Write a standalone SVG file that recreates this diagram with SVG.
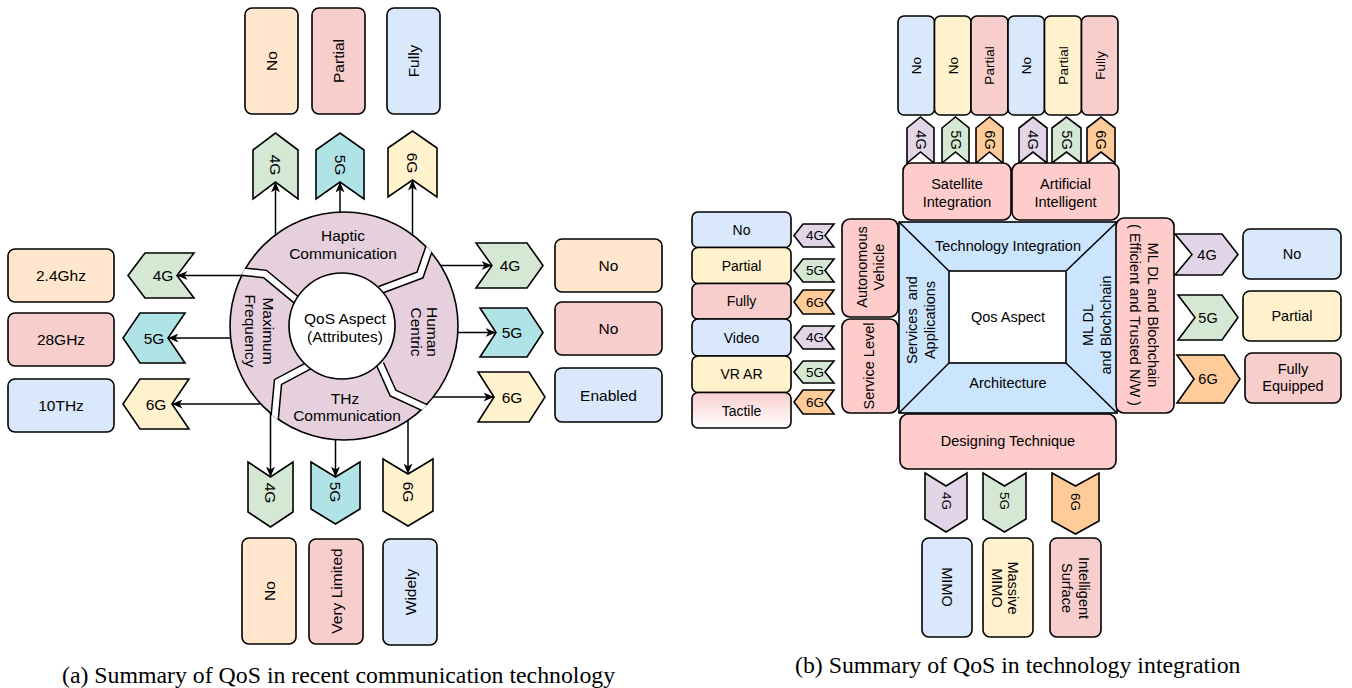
<svg xmlns="http://www.w3.org/2000/svg" width="1352" height="688" viewBox="0 0 1352 688">
  <style>
    .bx { stroke: #000; stroke-width: 1.6; }
    .ln { stroke: #000; stroke-width: 1.5; fill: none; }
    .t { font-family: "Liberation Sans", Arial, sans-serif; font-size: 15.5px; text-anchor: middle; dominant-baseline: central; fill: #000; }
    .m { font-size: 14.5px; }
    .s { font-size: 13.5px; }
    .r { font-size: 14px; }
    .cap { font-family: "Liberation Serif", "Times New Roman", serif; font-size: 23.8px; fill: #000; }
    .peach { fill: #ffe6cc; } .pink { fill: #f8cecc; } .blue { fill: #dae8fc; }
    .green { fill: #d5e8d4; } .cyan { fill: #b0e3e6; } .yellow { fill: #fff2cc; }
    .purple { fill: #e1d5e7; } .orange { fill: #ffcc99; } .rose { fill: #ffcccc; }
  </style>
  <defs>
    <marker id="ah" markerWidth="11" markerHeight="9" refX="10.5" refY="4.5" orient="auto" markerUnits="userSpaceOnUse">
      <path d="M0,0 L10.5,4.5 L0,9 L3,4.5 Z" fill="#000"/>
    </marker>
    <clipPath id="ringClip"><circle cx="344" cy="326" r="114.8"/></clipPath>
    <linearGradient id="tactileFill" x1="0" y1="0" x2="0" y2="1">
      <stop offset="0" stop-color="#f8cecc"/>
      <stop offset="1" stop-color="#ffffff"/>
    </linearGradient>
  </defs>
  <rect width="1352" height="688" fill="#fff"/>

  <!-- ===== (a) QoS in recent communication technology ===== -->
  <g id="a-ring">
    <circle cx="344" cy="326" r="114" fill="#e6d0de" class="bx"/>
    <g clip-path="url(#ringClip)">
      <polyline points="236,271 265,274 300,303" stroke="#000" stroke-width="9" fill="none"/>
      <polyline points="236,271 265,274 300,303" stroke="#fff" stroke-width="6" fill="none"/>
      <polyline points="431,243 420,275 380,290" stroke="#000" stroke-width="9" fill="none"/>
      <polyline points="431,243 420,275 380,290" stroke="#fff" stroke-width="6" fill="none"/>
      <polyline points="310,365 278,382 274,425" stroke="#000" stroke-width="9" fill="none"/>
      <polyline points="310,365 278,382 274,425" stroke="#fff" stroke-width="6" fill="none"/>
      <polyline points="380,364 393,393 432,411" stroke="#000" stroke-width="9" fill="none"/>
      <polyline points="380,364 393,393 432,411" stroke="#fff" stroke-width="6" fill="none"/>
    </g>
    <text class="t" x="343" y="235">Haptic</text>
    <text class="t" x="343" y="253">Communication</text>
    <text class="t" x="345" y="398">THz</text>
    <text class="t" x="347" y="415">Communication</text>
    <text class="t" transform="translate(260,331) rotate(90)"><tspan x="0" y="-9">Maximum</tspan><tspan x="0" y="9">Frequency</tspan></text>
    <text class="t" transform="translate(425,332) rotate(90)"><tspan x="0" y="-8">Human</tspan><tspan x="0" y="8">Centric</tspan></text>
  </g>
  <g id="a-core">
    <circle cx="342" cy="326" r="53" fill="#fff" class="bx"/>
    <text class="t" x="345" y="318">QoS Aspect</text>
    <text class="t" x="345" y="336">(Attributes)</text>
  </g>

  <g id="a-connectors">
    <line class="ln" x1="275.5" y1="236" x2="275.5" y2="182" marker-end="url(#ah)"/>
    <line class="ln" x1="340" y1="212" x2="340" y2="182" marker-end="url(#ah)"/>
    <line class="ln" x1="412.5" y1="236" x2="412.5" y2="180" marker-end="url(#ah)"/>
    <line class="ln" x1="243" y1="275.5" x2="177" y2="275.5" marker-end="url(#ah)"/>
    <line class="ln" x1="231" y1="338" x2="168" y2="338" marker-end="url(#ah)"/>
    <line class="ln" x1="260" y1="404" x2="172" y2="404" marker-end="url(#ah)"/>
    <line class="ln" x1="440" y1="265.5" x2="492" y2="265.5" marker-end="url(#ah)"/>
    <line class="ln" x1="458" y1="332.5" x2="496" y2="332.5" marker-end="url(#ah)"/>
    <line class="ln" x1="433" y1="397" x2="494" y2="397" marker-end="url(#ah)"/>
    <line class="ln" x1="270.5" y1="413" x2="270.5" y2="477" marker-end="url(#ah)"/>
    <line class="ln" x1="335.5" y1="440" x2="335.5" y2="477" marker-end="url(#ah)"/>
    <line class="ln" x1="408" y1="420" x2="408" y2="474" marker-end="url(#ah)"/>
  </g>

  <!-- top: haptic communication -->
  <g id="a-top-4g"><polygon class="bx green" points="253,150 275.5,133 298,150 298,199 275.5,182 253,199"/><text class="t" transform="translate(275.5,165) rotate(90)">4G</text></g>
  <g id="a-top-5g"><polygon class="bx cyan" points="316,150 340,133 364,150 364,199 340,182 316,199"/><text class="t" transform="translate(340,165) rotate(90)">5G</text></g>
  <g id="a-top-6g"><polygon class="bx yellow" points="388,148 412.5,131 437,148 437,197 412.5,180 388,197"/><text class="t" transform="translate(412.5,163) rotate(90)">6G</text></g>
  <g id="a-top-no"><rect class="bx peach" x="245" y="8" width="53" height="106" rx="7"/><text class="t" transform="translate(271.5,61) rotate(-90)">No</text></g>
  <g id="a-top-partial"><rect class="bx pink" x="312" y="8" width="53" height="106" rx="7"/><text class="t" transform="translate(338.5,61) rotate(-90)">Partial</text></g>
  <g id="a-top-fully"><rect class="bx blue" x="387" y="8" width="53" height="106" rx="7"/><text class="t" transform="translate(413.5,61) rotate(-90)">Fully</text></g>

  <!-- left: maximum frequency -->
  <g id="a-left-4g"><polygon class="bx green" points="145,253 194,253 177,275.5 194,298 145,298 128,275.5"/><text class="t" x="163" y="275.5">4G</text></g>
  <g id="a-left-5g"><polygon class="bx cyan" points="140,313 185,313 168,338 185,363 140,363 123,338"/><text class="t" x="154" y="338">5G</text></g>
  <g id="a-left-6g"><polygon class="bx yellow" points="140,379 189,379 172,404 189,429 140,429 123,404"/><text class="t" x="156" y="404">6G</text></g>
  <g id="a-left-24"><rect class="bx peach" x="8" y="249" width="106" height="53" rx="7"/><text class="t" x="61" y="275.5">2.4Ghz</text></g>
  <g id="a-left-28"><rect class="bx pink" x="8" y="313" width="106" height="53" rx="7"/><text class="t" x="61" y="339.5">28GHz</text></g>
  <g id="a-left-10"><rect class="bx blue" x="8" y="379" width="106" height="53" rx="7"/><text class="t" x="61" y="405.5">10THz</text></g>

  <!-- right: human centric -->
  <g id="a-right-4g"><polygon class="bx green" points="476,243 527,243 543,265.5 527,288 476,288 492,265.5"/><text class="t" x="510" y="265.5">4G</text></g>
  <g id="a-right-5g"><polygon class="bx cyan" points="480,308 527,308 543,332.5 527,357 480,357 496,332.5"/><text class="t" x="512" y="332.5">5G</text></g>
  <g id="a-right-6g"><polygon class="bx yellow" points="478,372 529,372 545,397 529,422 478,422 494,397"/><text class="t" x="512" y="397">6G</text></g>
  <g id="a-right-no1"><rect class="bx peach" x="555" y="239" width="107" height="53" rx="7"/><text class="t" x="608.5" y="265.5">No</text></g>
  <g id="a-right-no2"><rect class="bx pink" x="555" y="302" width="107" height="53" rx="7"/><text class="t" x="608.5" y="328.5">No</text></g>
  <g id="a-right-enabled"><rect class="bx blue" x="555" y="368" width="107" height="54" rx="7"/><text class="t" x="608.5" y="395">Enabled</text></g>

  <!-- bottom: THz communication -->
  <g id="a-bot-4g"><polygon class="bx green" points="248,462 270.5,477 293,462 293,512 270.5,527 248,512"/><text class="t" transform="translate(270.5,493) rotate(90)">4G</text></g>
  <g id="a-bot-5g"><polygon class="bx cyan" points="311,462 335.5,477 360,462 360,509 335.5,524 311,509"/><text class="t" transform="translate(335.5,492) rotate(90)">5G</text></g>
  <g id="a-bot-6g"><polygon class="bx yellow" points="383,459 408,474 433,459 433,511 408,526 383,511"/><text class="t" transform="translate(408,492) rotate(90)">6G</text></g>
  <g id="a-bot-no"><rect class="bx peach" x="242" y="538" width="54" height="106" rx="7"/><text class="t" transform="translate(269,591) rotate(-90)">No</text></g>
  <g id="a-bot-limited"><rect class="bx pink" x="309" y="539" width="54" height="105" rx="7"/><text class="t" transform="translate(336,591) rotate(-90)">Very Limited</text></g>
  <g id="a-bot-widely"><rect class="bx blue" x="383" y="539" width="54" height="106" rx="7"/><text class="t" transform="translate(410,592) rotate(-90)">Widely</text></g>

  <text class="cap" x="62" y="683">(a) Summary of QoS in recent communication technology</text>

  <!-- ===== (b) QoS in technology integration ===== -->
  <g id="b-core">
    <rect x="899" y="222" width="218" height="191" fill="#cce5ff" class="bx"/>
    <rect x="949" y="271" width="117" height="92" fill="#fff" class="bx"/>
    <line class="ln" x1="899" y1="222" x2="949" y2="271"/>
    <line class="ln" x1="1117" y1="222" x2="1066" y2="271"/>
    <line class="ln" x1="899" y1="413" x2="949" y2="363"/>
    <line class="ln" x1="1117" y1="413" x2="1066" y2="363"/>
    <text class="t m" x="1008" y="246">Technology Integration</text>
    <text class="t m" x="1008" y="317">Qos Aspect</text>
    <text class="t m" x="1008" y="383">Architecture</text>
    <text class="t m" transform="translate(921,320) rotate(-90)"><tspan x="0" y="-9" xml:space="preserve">Services  and</tspan><tspan x="0" y="9">Applications</tspan></text>
    <text class="t m" transform="translate(1097,325) rotate(-90)"><tspan x="0" y="-9">ML DL</tspan><tspan x="0" y="9">and Blochchain</tspan></text>
  </g>

  <!-- top: satellite / AI -->
  <g id="b-top-no1"><rect class="bx blue" x="898" y="16" width="36.5" height="99" rx="6"/><text class="t s" transform="translate(916,65.5) rotate(-90)">No</text></g>
  <g id="b-top-no2"><rect class="bx yellow" x="934.5" y="16" width="36.5" height="99" rx="6"/><text class="t s" transform="translate(953,65.5) rotate(-90)">No</text></g>
  <g id="b-top-partial1"><rect class="bx pink" x="971" y="16" width="37" height="99" rx="6"/><text class="t s" transform="translate(989.5,65.5) rotate(-90)">Partial</text></g>
  <g id="b-top-no3"><rect class="bx blue" x="1008" y="16" width="36.5" height="99" rx="6"/><text class="t s" transform="translate(1026,65.5) rotate(-90)">No</text></g>
  <g id="b-top-partial2"><rect class="bx yellow" x="1044.5" y="16" width="37" height="99" rx="6"/><text class="t s" transform="translate(1063,65.5) rotate(-90)">Partial</text></g>
  <g id="b-top-fully"><rect class="bx pink" x="1081.5" y="16" width="36.5" height="99" rx="6"/><text class="t s" transform="translate(1100,65.5) rotate(-90)">Fully</text></g>

  <g id="b-top-4g1"><polygon class="bx purple" points="907,128 920.5,117 934,128 934,163 920.5,152 907,163"/><text class="t m" transform="translate(920.5,140) rotate(90)">4G</text></g>
  <g id="b-top-5g1"><polygon class="bx green" points="942,128 955.5,117 969,128 969,163 955.5,152 942,163"/><text class="t m" transform="translate(955.5,140) rotate(90)">5G</text></g>
  <g id="b-top-6g1"><polygon class="bx orange" points="976,128 989.5,117 1003,128 1003,163 989.5,152 976,163"/><text class="t m" transform="translate(989.5,140) rotate(90)">6G</text></g>
  <g id="b-top-4g2"><polygon class="bx purple" points="1019,128 1033,117 1047,128 1047,163 1033,152 1019,163"/><text class="t m" transform="translate(1033,140) rotate(90)">4G</text></g>
  <g id="b-top-5g2"><polygon class="bx green" points="1052,128 1066.5,117 1081,128 1081,163 1066.5,152 1052,163"/><text class="t m" transform="translate(1066.5,140) rotate(90)">5G</text></g>
  <g id="b-top-6g2"><polygon class="bx orange" points="1087,128 1101,117 1115,128 1115,163 1101,152 1087,163"/><text class="t m" transform="translate(1101,140) rotate(90)">6G</text></g>

  <g id="b-satellite"><rect class="bx rose" x="903" y="163" width="108" height="57" rx="8"/><text class="t m" x="957" y="184">Satellite</text><text class="t m" x="957" y="202">Integration</text></g>
  <g id="b-ai"><rect class="bx rose" x="1012" y="163" width="107" height="57" rx="8"/><text class="t m" x="1065.5" y="184">Artificial</text><text class="t m" x="1065.5" y="202">Intelligent</text></g>

  <!-- left: services and applications -->
  <g id="b-autonomous"><rect class="bx rose" x="842" y="219" width="56" height="98" rx="8"/><text class="t m" transform="translate(870,267) rotate(-90)"><tspan x="0" y="-8">Autonomous</tspan><tspan x="0" y="9">Vehicle</tspan></text></g>
  <g id="b-service"><rect class="bx rose" x="842" y="319" width="56" height="94" rx="8"/><text class="t m" transform="translate(869,366) rotate(-90)">Service Level</text></g>

  <g id="b-left-4g1"><polygon class="bx purple" points="803,224 834,224 825,235.5 834,247 803,247 794,235.5"/><text class="t s" x="815" y="235.5">4G</text></g>
  <g id="b-left-5g1"><polygon class="bx green" points="803,259 834,259 825,270.5 834,282 803,282 794,270.5"/><text class="t s" x="815" y="270.5">5G</text></g>
  <g id="b-left-6g1"><polygon class="bx orange" points="803,290 834,290 825,302 834,314 803,314 794,302"/><text class="t s" x="815" y="302">6G</text></g>
  <g id="b-left-4g2"><polygon class="bx purple" points="803,326 834,326 825,337.5 834,349 803,349 794,337.5"/><text class="t s" x="815" y="337.5">4G</text></g>
  <g id="b-left-5g2"><polygon class="bx green" points="803,361 834,361 825,372 834,383 803,383 794,372"/><text class="t s" x="815" y="372">5G</text></g>
  <g id="b-left-6g2"><polygon class="bx orange" points="803,390 834,390 825,402 834,414 803,414 794,402"/><text class="t s" x="815" y="402">6G</text></g>

  <g id="b-left-no"><rect class="bx blue" x="692" y="212" width="99" height="35.5" rx="6"/><text class="t r" x="741.5" y="229.5">No</text></g>
  <g id="b-left-partial"><rect class="bx yellow" x="692" y="247.5" width="99" height="36" rx="6"/><text class="t r" x="741.5" y="265.5">Partial</text></g>
  <g id="b-left-fully"><rect class="bx pink" x="692" y="283.5" width="99" height="35.5" rx="6"/><text class="t r" x="741.5" y="301">Fully</text></g>
  <g id="b-left-video"><rect class="bx blue" x="692" y="319" width="99" height="37" rx="6"/><text class="t r" x="741.5" y="337.5">Video</text></g>
  <g id="b-left-vrar"><rect class="bx yellow" x="692" y="356" width="99" height="36.5" rx="6"/><text class="t r" x="741.5" y="374">VR AR</text></g>
  <g id="b-left-tactile"><rect class="bx" fill="url(#tactileFill)" x="692" y="392.5" width="99" height="35.5" rx="6"/><text class="t r" x="741.5" y="410.5">Tactile</text></g>

  <!-- right: ML DL and blockchain -->
  <g id="b-ml"><rect class="bx rose" x="1116" y="218" width="58" height="195" rx="8"/><text class="t m" transform="translate(1144,315) rotate(90)"><tspan x="0" y="-9">ML DL and Blochchain</tspan><tspan x="0" y="9">( Efficient and Trusted N/W )</tspan></text></g>

  <g id="b-right-4g"><polygon class="bx purple" points="1175,234 1222,234 1238,254.5 1222,275 1175,275 1192,254.5"/><text class="t m" x="1207" y="254.5">4G</text></g>
  <g id="b-right-5g"><polygon class="bx green" points="1178,295 1222,295 1238,317.5 1222,340 1178,340 1195,317.5"/><text class="t m" x="1208" y="317.5">5G</text></g>
  <g id="b-right-6g"><polygon class="bx orange" points="1177,355 1224,355 1240,379 1224,403 1177,403 1194,379"/><text class="t m" x="1208" y="379">6G</text></g>

  <g id="b-right-no"><rect class="bx blue" x="1243" y="229" width="98" height="50" rx="7"/><text class="t m" x="1292" y="254">No</text></g>
  <g id="b-right-partial"><rect class="bx yellow" x="1243" y="291" width="98" height="50" rx="7"/><text class="t m" x="1292" y="316">Partial</text></g>
  <g id="b-right-fully"><rect class="bx pink" x="1245" y="353" width="96" height="50" rx="7"/><text class="t m" x="1293" y="369">Fully</text><text class="t m" x="1293" y="386">Equipped</text></g>

  <!-- bottom: designing technique -->
  <g id="b-design"><rect class="bx rose" x="900" y="414" width="216" height="55" rx="8"/><text class="t m" x="1008" y="441">Designing Technique</text></g>

  <g id="b-bot-4g"><polygon class="bx purple" points="925,473 946,486 967,473 967,519 946,532 925,519"/><text class="t s" transform="translate(946,501) rotate(90)">4G</text></g>
  <g id="b-bot-5g"><polygon class="bx green" points="983,473 1004.5,486 1026,473 1026,519 1004.5,532 983,519"/><text class="t s" transform="translate(1004.5,501) rotate(90)">5G</text></g>
  <g id="b-bot-6g"><polygon class="bx orange" points="1052,473 1075.5,486 1099,473 1099,521 1075.5,534 1052,521"/><text class="t s" transform="translate(1075.5,502) rotate(90)">6G</text></g>

  <g id="b-bot-mimo"><rect class="bx blue" x="922" y="538" width="50" height="99" rx="7"/><text class="t m" transform="translate(947,587) rotate(90)">MIMO</text></g>
  <g id="b-bot-massive"><rect class="bx yellow" x="983" y="538" width="50" height="99" rx="7"/><text class="t m" transform="translate(1005,588) rotate(90)"><tspan x="0" y="-8">Massive</tspan><tspan x="0" y="8">MIMO</tspan></text></g>
  <g id="b-bot-surface"><rect class="bx pink" x="1050" y="538" width="51" height="99" rx="7"/><text class="t m" transform="translate(1075.5,588) rotate(90)"><tspan x="0" y="-8.5">Intelligent</tspan><tspan x="0" y="8.5">Surface</tspan></text></g>

  <text class="cap" x="795" y="673">(b) Summary of QoS in technology integration</text>
</svg>
